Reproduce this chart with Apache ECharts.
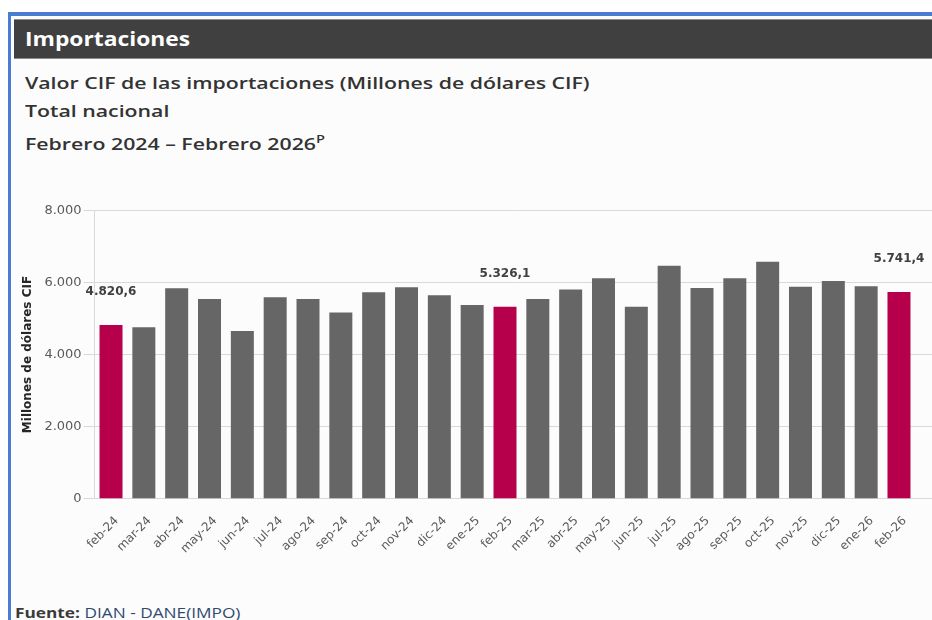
<!DOCTYPE html>
<html>
<head>
<meta charset="utf-8">
<script src="https://cdn.jsdelivr.net/npm/echarts@6/dist/echarts.min.js"></script>
<style>
  html, body { margin: 0; padding: 0; width: 932px; height: 620px; overflow: hidden; background: #ffffff; }
  #frame { position: absolute; left: 8px; top: 12px; width: 940px; height: 620px; background: #fcfcfc;
           border-left: 3px solid #4a7cd1; border-top: 4px solid #4a7cd1; box-sizing: border-box; }
  #bar { position: absolute; left: 14px; top: 19px; width: 930px; height: 38px; background: #404040;
         border-top: 1px solid #8a8a8a; border-bottom: 1px solid #8a8a8a; }
  #head { position: absolute; left: 25px; top: 25px; font-family: "Open Sans", sans-serif; font-weight: 700;
          font-size: 19px; color: #ffffff; line-height: 28px; transform-origin: left center; transform: scaleX(1.2); white-space: nowrap; }
  .sub { position: absolute; left: 25px; font-family: "Open Sans", sans-serif; font-weight: 600;
         font-size: 16px; color: #333333; line-height: 22px; white-space: nowrap;
         transform-origin: left center; transform: scaleX(1.33); }
  #foot { position: absolute; left: 15px; top: 601px; font-family: "Open Sans", sans-serif; font-size: 15px;
          line-height: 22px; color: #2f4a72; white-space: nowrap; transform-origin: left center; transform: scaleX(1.15); }
  #foot b { color: #3a3a3a; font-weight: 700; }
  #chart { position: absolute; left: 0; top: 0; width: 932px; height: 620px; }
</style>
</head>
<body>
<div id="frame"></div>
<div id="bar"></div>
<div id="head">Importaciones</div>
<div class="sub" style="top:72px">Valor CIF de las importaciones (Millones de dólares CIF)</div>
<div class="sub" style="top:100px">Total nacional</div>
<div class="sub" style="top:133px">Febrero 2024 – Febrero 2026<span style="font-size:11px;position:relative;top:-7px;font-weight:600">P</span></div>
<div id="foot"><b>Fuente:</b> DIAN - DANE(IMPO)</div>
<div id="chart"></div>
<script>
const categories = ["feb-24","mar-24","abr-24","may-24","jun-24","jul-24","ago-24","sep-24","oct-24","nov-24","dic-24","ene-25",
  "feb-25","mar-25","abr-25","may-25","jun-25","jul-25","ago-25","sep-25","oct-25","nov-25","dic-25","ene-26","feb-26"];
const values = [4820.6, 4760, 5840, 5545, 4655, 5590, 5545, 5165, 5730, 5870, 5650, 5380,
  5326.1, 5545, 5805, 6120, 5330, 6470, 5850, 6120, 6580, 5885, 6045, 5900, 5741.4];
const highlighted = ["feb-24", "feb-25", "feb-26"];
const yTicks = [0, 2000, 4000, 6000, 8000];

function fmtEs(v, dec) {
  const s = v.toFixed(dec);
  const parts = s.split(".");
  const intPart = parts[0].replace(/\B(?=(\d{3})+(?!\d))/g, ".");
  return parts.length > 1 ? intPart + "," + parts[1] : intPart;
}

const GRAY = "#666666", RED = "#b7004c";
const data = values.map((v, i) => {
  const hi = highlighted.includes(categories[i]);
  return {
    value: v,
    itemStyle: { color: hi ? RED : GRAY },
    label: { show: hi }
  };
});

const chart = echarts.init(document.getElementById("chart"), null, { renderer: "canvas" });
const yMax = yTicks[yTicks.length - 1];
const yInt = yTicks[1] - yTicks[0];
chart.setOption({
  backgroundColor: "transparent",
  animation: false,
  grid: [
    { left: 94.6, right: 16.6, top: 210.7, bottom: 121.7 },
    { left: 94.6, right: 0, top: 210.7, bottom: 121.7 }
  ],
  xAxis: [
    {
      type: "category", gridIndex: 0, data: categories,
      axisLine: { show: false },
      axisTick: { show: false },
      axisLabel: { rotate: 45, interval: 0, margin: 15, color: "#595959", verticalAlign: "top",
        padding: [2, 0, 0, 0],
        fontFamily: "DejaVu Sans", fontSize: 12 }
    },
    { type: "value", gridIndex: 1, show: false, min: 0, max: 1 }
  ],
  yAxis: [
    {
      type: "value", gridIndex: 0, min: 0, max: yMax, interval: yInt,
      name: "Millones de dólares CIF", nameLocation: "middle", nameGap: 60,
      nameTextStyle: { fontFamily: "DejaVu Sans", fontWeight: "bold", fontSize: 12, color: "#262626" },
      axisLine: { show: true, lineStyle: { color: "#d9d9d9" } },
      axisTick: { show: true, length: 11, lineStyle: { color: "#d9d9d9" } },
      axisLabel: { color: "#595959", fontFamily: "DejaVu Sans", fontSize: 13, margin: 13,
        formatter: v => fmtEs(v, 0) },
      splitLine: { show: false }
    },
    {
      type: "value", gridIndex: 1, min: 0, max: yMax, interval: yInt,
      axisLine: { show: false }, axisTick: { show: false }, axisLabel: { show: false },
      splitLine: { show: true, lineStyle: { color: "#d9d9d9", width: 1 } }
    }
  ],
  series: [
    {
      type: "bar", xAxisIndex: 0, yAxisIndex: 0, data: data, barWidth: 23,
      label: {
        position: "top", distance: 27, color: "#404040",
        fontFamily: "DejaVu Sans", fontWeight: "bold", fontSize: 12,
        formatter: p => fmtEs(p.value, 1)
      }
    }
  ]
});
</script>
</body>
</html>
